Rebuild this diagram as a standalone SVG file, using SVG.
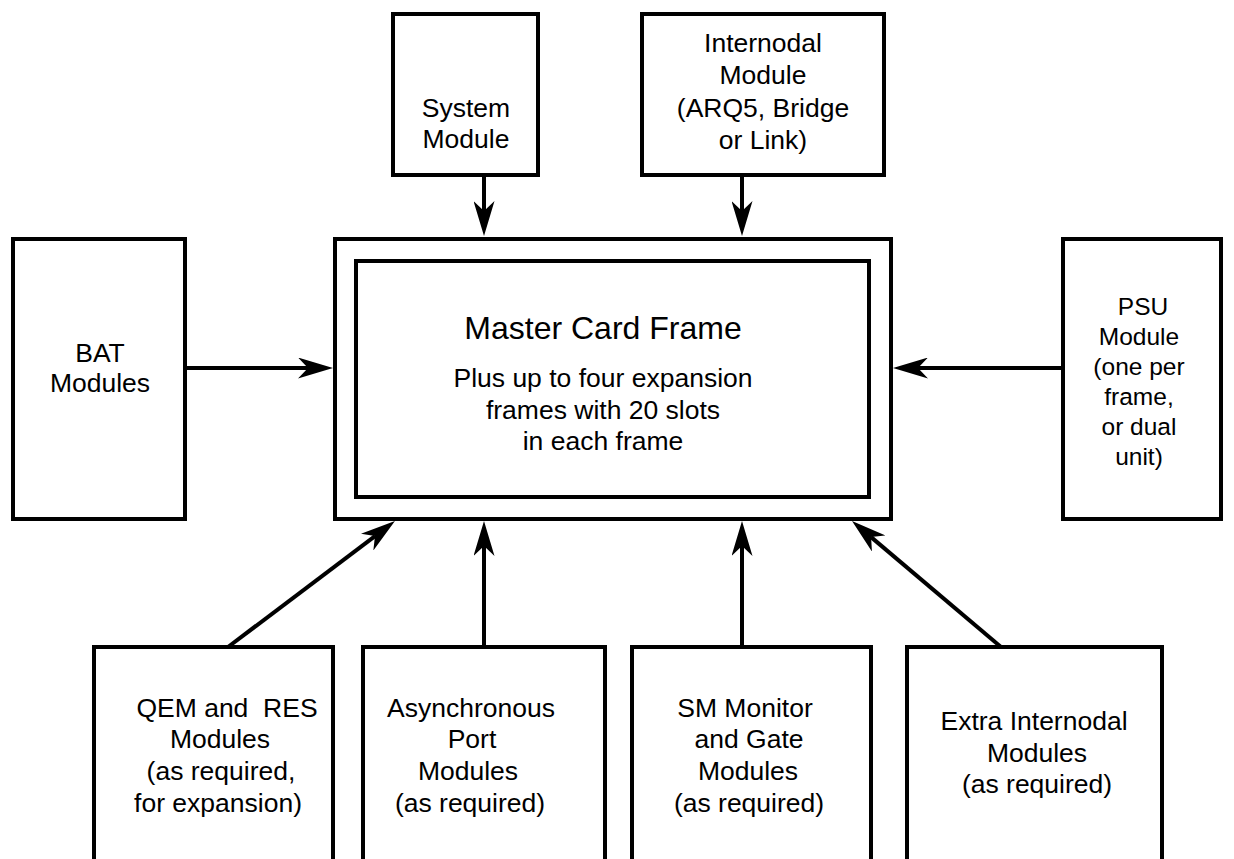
<svg xmlns="http://www.w3.org/2000/svg" width="1234" height="859" viewBox="0 0 1234 859">
  <style>
    .box { fill: #fff; stroke: #000; stroke-width: 4; }
    .lbl { font-family: "Liberation Sans", Arial, sans-serif; font-size: 26.5px; fill: #000; text-anchor: middle; }
    .title { font-size: 32px; }
    .small { font-size: 24.5px; }
    .wire { stroke: #000; stroke-width: 4; fill: none; marker-end: url(#head); }
  </style>
  <defs>
    <!-- barbed arrowhead; refX sits on the notch so the shaft ends inside the head -->
    <marker id="head" viewBox="0 0 35 21" refX="10" refY="10.5" markerWidth="35" markerHeight="21" markerUnits="userSpaceOnUse" orient="auto">
      <path d="M0,0 L35,10.5 L0,21 L10,10.5 Z" fill="#000"/>
    </marker>
  </defs>
  <rect width="1234" height="859" fill="#fff"/>

  <g id="connectors">
    <line class="wire" x1="484" y1="175" x2="484" y2="211"/>
    <line class="wire" x1="742" y1="175" x2="742" y2="211"/>
    <line class="wire" x1="185" y1="368" x2="308" y2="368"/>
    <line class="wire" x1="1063" y1="368" x2="918" y2="368"/>
    <line class="wire" x1="228" y1="647" x2="375" y2="536.1"/>
    <line class="wire" x1="484" y1="647" x2="484" y2="546"/>
    <line class="wire" x1="742" y1="647" x2="742" y2="546"/>
    <line class="wire" x1="1001" y1="647" x2="871.1" y2="537.1"/>
  </g>

  <g id="system-module">
    <rect class="box" x="393" y="14" width="145" height="161"/>
    <text class="lbl" x="466" y="117">System</text>
    <text class="lbl" x="466" y="148">Module</text>
  </g>

  <g id="internodal-module">
    <rect class="box" x="642" y="14" width="242" height="161"/>
    <text class="lbl" x="763" y="52">Internodal</text>
    <text class="lbl" x="763" y="84">Module</text>
    <text class="lbl" x="763" y="117">(ARQ5, Bridge</text>
    <text class="lbl" x="763" y="149">or Link)</text>
  </g>

  <g id="bat-modules">
    <rect class="box" x="13" y="239" width="172" height="280"/>
    <text class="lbl" x="100" y="362">BAT</text>
    <text class="lbl" x="100" y="392">Modules</text>
  </g>

  <g id="master-card-frame">
    <rect class="box" x="335" y="239" width="556" height="280"/>
    <rect class="box" x="356" y="261" width="513" height="236"/>
    <text class="lbl title" x="603" y="339">Master Card Frame</text>
    <text class="lbl" x="603" y="387">Plus up to four expansion</text>
    <text class="lbl" x="603" y="418.5">frames with 20 slots</text>
    <text class="lbl" x="603" y="450">in each frame</text>
  </g>

  <g id="psu-module">
    <rect class="box" x="1063" y="239" width="158" height="280"/>
    <text class="lbl small" x="1143" y="315">PSU</text>
    <text class="lbl small" x="1139" y="345">Module</text>
    <text class="lbl small" x="1139" y="375">(one per</text>
    <text class="lbl small" x="1139" y="405">frame,</text>
    <text class="lbl small" x="1139" y="435">or dual</text>
    <text class="lbl small" x="1139" y="465">unit)</text>
  </g>

  <g id="qem-res-modules">
    <path class="box" d="M94,863 V647 H333 V863"/>
    <text class="lbl" x="227" y="717" xml:space="preserve">QEM and  RES</text>
    <text class="lbl" x="220" y="748">Modules</text>
    <text class="lbl" x="221" y="780">(as required,</text>
    <text class="lbl" x="218" y="812">for expansion)</text>
  </g>

  <g id="async-port-modules">
    <path class="box" d="M363,863 V647 H605 V863"/>
    <text class="lbl" x="471" y="717">Asynchronous</text>
    <text class="lbl" x="472" y="748">Port</text>
    <text class="lbl" x="468" y="780">Modules</text>
    <text class="lbl" x="470" y="812">(as required)</text>
  </g>

  <g id="sm-monitor-gate-modules">
    <path class="box" d="M632,863 V647 H871 V863"/>
    <text class="lbl" x="745" y="717">SM Monitor</text>
    <text class="lbl" x="749" y="748">and Gate</text>
    <text class="lbl" x="748" y="780">Modules</text>
    <text class="lbl" x="749" y="812">(as required)</text>
  </g>

  <g id="extra-internodal-modules">
    <path class="box" d="M907,863 V647 H1162 V863"/>
    <text class="lbl" x="1034" y="730">Extra Internodal</text>
    <text class="lbl" x="1037" y="762">Modules</text>
    <text class="lbl" x="1037" y="793">(as required)</text>
  </g>
</svg>
